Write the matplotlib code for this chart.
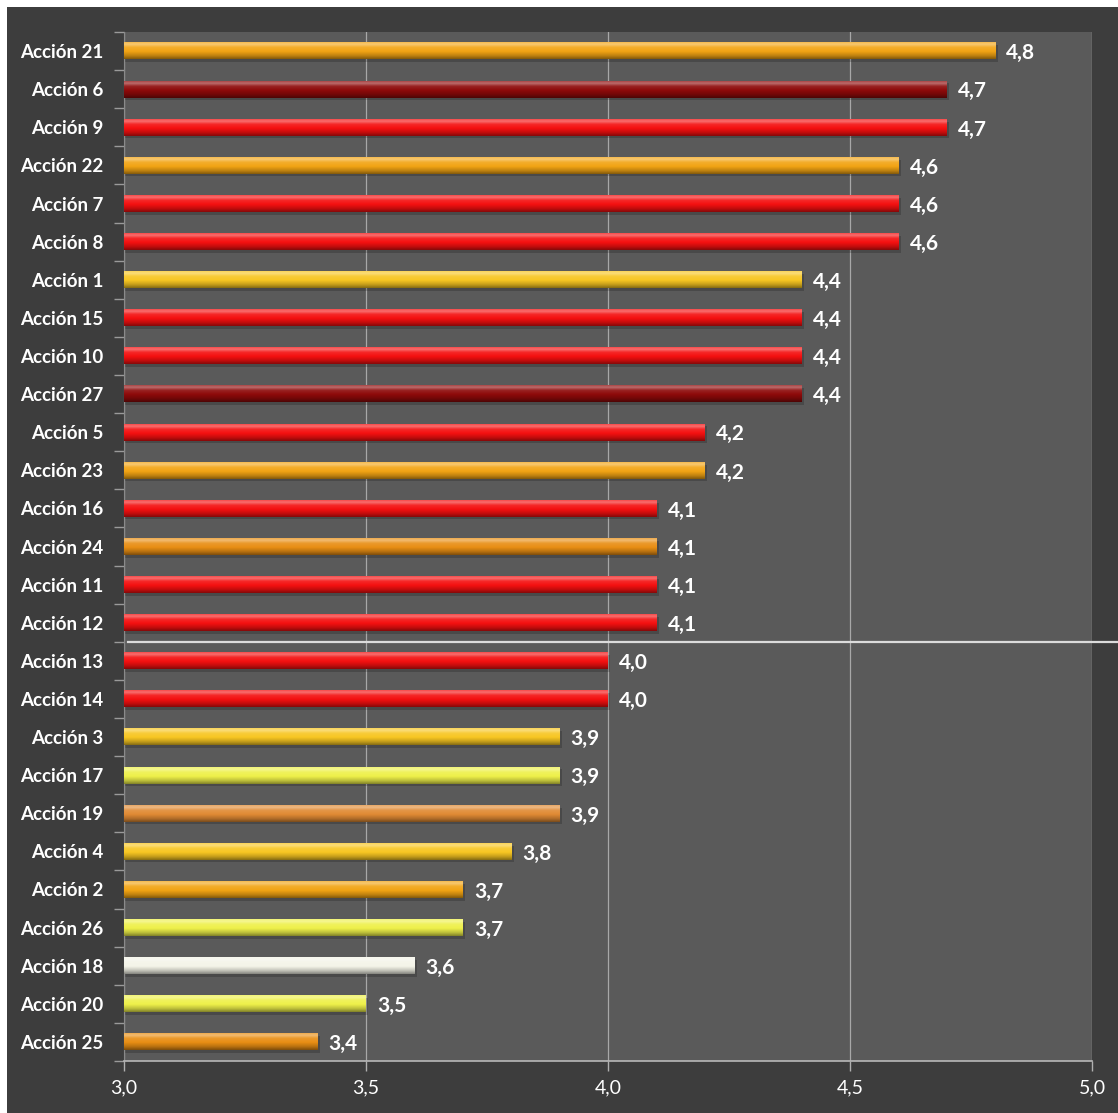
import numpy as np
import matplotlib
matplotlib.use("Agg")
import matplotlib.pyplot as plt
from matplotlib.patches import Rectangle
from matplotlib.colors import to_rgb

plt.rcParams['font.family'] = ['Lato', 'DejaVu Sans']

acciones = ['Acción 21', 'Acción 6', 'Acción 9', 'Acción 22', 'Acción 7', 'Acción 8',
            'Acción 1', 'Acción 15', 'Acción 10', 'Acción 27', 'Acción 5', 'Acción 23',
            'Acción 16', 'Acción 24', 'Acción 11', 'Acción 12', 'Acción 13', 'Acción 14',
            'Acción 3', 'Acción 17', 'Acción 19', 'Acción 4', 'Acción 2', 'Acción 26',
            'Acción 18', 'Acción 20', 'Acción 25']
valores = [4.8, 4.7, 4.7, 4.6, 4.6, 4.6, 4.4, 4.4, 4.4, 4.4, 4.2, 4.2, 4.1, 4.1,
           4.1, 4.1, 4.0, 4.0, 3.9, 3.9, 3.9, 3.8, 3.7, 3.7, 3.6, 3.5, 3.4]

oro = '#f2a414'
rojo = '#f41010'
granate = '#8e0a0a'
amarillo = '#f7c622'
limon = '#eef04a'
naranja = '#e88e14'
tostado = '#e08a34'
blanco = '#f4f4e8'
colores = [oro, granate, rojo, oro, rojo, rojo, amarillo, rojo, rojo, granate,
           rojo, oro, rojo, naranja, rojo, rojo, rojo, rojo, amarillo, limon,
           tostado, amarillo, oro, limon, blanco, limon, naranja]

xticks = [3.0, 3.5, 4.0, 4.5, 5.0]


def gradiente(color):
    c = np.array(to_rgb(color))
    blanco_ = np.ones(3)
    negro = np.zeros(3)
    paradas = [0.0, 0.12, 0.3, 0.55, 0.8, 1.0]
    tonos = [c * 0.75 + blanco_ * 0.25, c * 0.6 + blanco_ * 0.4, c * 0.9 + blanco_ * 0.1,
             c, c * 0.8, c * 0.55 + negro * 0.45]
    t = np.linspace(0, 1, 40)
    img = np.zeros((40, 1, 3))
    for k in range(3):
        img[:, 0, k] = np.interp(t, paradas, [tn[k] for tn in tonos])
    return np.clip(img, 0, 1)


fig = plt.figure(figsize=(11.18, 11.13), dpi=100)
fig.patch.set_facecolor('white')
fig.patches.append(Rectangle((7 / 1118, 0), 1, 1 - 7 / 1113, transform=fig.transFigure,
                             facecolor='#3d3d3d', edgecolor='none', zorder=-10))

ax = fig.add_axes([124 / 1118, 52 / 1113, 968 / 1118, 1029 / 1113])
ax.set_zorder(1)
ax.set_facecolor('#5a5a5a')

y = np.arange(len(acciones))
alto = 0.44
for i, (v, c) in enumerate(zip(valores, colores)):
    # sombra
    ax.add_patch(Rectangle((3.0, y[i] - alto / 2 + 0.07), v - 3.0 + 0.005, alto,
                           facecolor='black', alpha=0.18, edgecolor='none', zorder=2))
    ax.imshow(gradiente(c), extent=[3.0, v, y[i] + alto / 2, y[i] - alto / 2],
              aspect='auto', interpolation='bilinear', zorder=3)
    ax.text(v + 0.023, y[i] + 0.06, f'{v:.1f}'.replace('.', ','), color='white',
            fontsize=15, fontweight='bold', va='center', ha='left', zorder=4)

ax.set_xlim(3.0, 5.0)
ax.set_ylim(len(acciones) - 0.5, -0.5)
ax.set_xticks(xticks)
ax.set_xticklabels([f'{t:.1f}'.replace('.', ',') for t in xticks], color='white', fontsize=14)
ax.set_yticks(y)
ax.set_yticklabels(acciones, color='white', fontsize=13.5, fontweight='bold')
ax.set_yticks(np.arange(len(acciones) + 1) - 0.5, minor=True)
ax.tick_params(axis='y', which='major', length=0, pad=15)
ax.tick_params(axis='y', which='minor', length=7, color='#9a9a9a', width=1)
ax.tick_params(axis='x', length=7, color='#b0b0b0', width=1, pad=6)
ax.grid(axis='x', color='#a8a8a8', linewidth=0.9, zorder=1)
ax.set_axisbelow(True)
for lado in ['top', 'right']:
    ax.spines[lado].set_visible(False)
ax.spines['left'].set_color('#8a8a8a')
ax.spines['bottom'].set_color('#b8b8b8')
ax.spines['bottom'].set_linewidth(1.2)

# línea separadora entre Acción 12 y Acción 13
corte = acciones.index('Acción 12') + 0.5
ax.axhline(corte, xmin=0.004, xmax=1.03, color='#dcdcdc', linewidth=1.6, clip_on=False, zorder=5)

fig.savefig('out.png', dpi=100, facecolor=fig.get_facecolor())
